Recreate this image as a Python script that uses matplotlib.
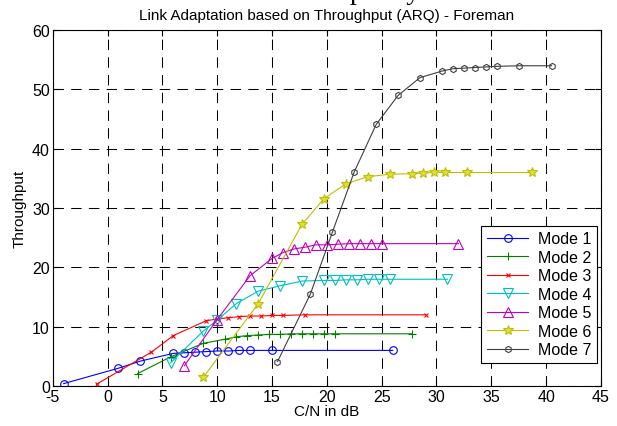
import matplotlib
matplotlib.use("Agg")
import matplotlib.pyplot as plt

plt.rcParams["font.family"] = ["Liberation Sans", "DejaVu Sans"]
plt.rcParams["axes.unicode_minus"] = False

# throughput curves per mode (C/N in dB -> throughput)
mode1_x = [-4, 1, 3, 6, 7, 8, 9, 10, 11, 12, 13, 15, 26]
mode1_y = [0.4, 3.0, 4.2, 5.5, 5.6, 5.7, 5.8, 5.9, 5.9, 6.0, 6.0, 6.0, 6.0]

mode2_x = [2.75, 5.75, 8.75, 10.75, 11.75, 12.75, 13.75, 14.75, 15.75, 16.75,
           17.75, 18.75, 19.75, 20.75, 27.75]
mode2_y = [2.1, 4.9, 7.2, 7.9, 8.3, 8.5, 8.6, 8.7, 8.7, 8.8, 8.8, 8.8, 8.8, 8.8, 8.8]

mode3_x = [-1, 4, 6, 9, 10, 11, 12, 13, 14, 15, 16, 18, 29]
mode3_y = [0.3, 5.7, 8.5, 11.0, 11.3, 11.5, 11.7, 11.8, 11.8, 11.9, 11.9, 12.0, 12.0]

mode4_x = [5.75, 8.75, 10, 11.75, 13.75, 15.75, 17.75, 19.75, 20.75, 21.75,
           22.75, 23.75, 24.75, 25.75, 31]
mode4_y = [3.9, 9.3, 11.1, 13.9, 16.0, 16.9, 17.7, 17.8, 17.8, 17.9, 17.9, 18, 18, 18, 18]

mode5_x = [7, 10, 13, 15, 16, 17, 18, 19, 20, 21, 22, 23, 24, 25, 32]
mode5_y = [3.4, 11.2, 18.6, 21.5, 22.5, 23.1, 23.4, 23.8, 23.8, 23.9, 24, 24, 24, 24, 24]

mode6_x = [8.75, 13.75, 17.75, 19.75, 21.75, 23.75, 25.75, 27.75, 28.75, 29.75,
           30.75, 32.75, 38.75]
mode6_y = [1.5, 13.9, 27.3, 31.6, 34.1, 35.3, 35.7, 35.8, 35.9, 36, 36, 36, 36]

mode7_x = [15.5, 18.5, 20.5, 22.5, 24.5, 26.5, 28.5, 30.5, 31.5, 32.5, 33.5,
           34.5, 35.5, 37.5, 40.5]
mode7_y = [4.1, 15.5, 25.9, 36.1, 44.1, 49.0, 52.0, 53.1, 53.5, 53.6, 53.7,
           53.8, 53.9, 54, 54]

series = [
    ("Mode 1", mode1_x, mode1_y, "#0000ff", "o", 5.5, "none"),
    ("Mode 2", mode2_x, mode2_y, "#008000", "+", 6, "none"),
    ("Mode 3", mode3_x, mode3_y, "#ff0000", "x", 3.5, "none"),
    ("Mode 4", mode4_x, mode4_y, "#00bfbf", "v", 6.5, "none"),
    ("Mode 5", mode5_x, mode5_y, "#bf00bf", "^", 6.5, "none"),
    ("Mode 6", mode6_x, mode6_y, "#bfbf00", "*", 7.5, "#dede40"),
    ("Mode 7", mode7_x, mode7_y, "#404040", "h", 4.5, "none"),
]

fig = plt.figure(figsize=(6.17, 4.27), dpi=100)
ax = fig.add_axes([0.0854, 0.0937, 0.8886, 0.8333])

for name, x, y, c, m, ms, fc in series:
    ax.plot(x, y, color=c, marker=m, markersize=ms, markerfacecolor=fc,
            markeredgecolor=c, linewidth=0.8, markeredgewidth=0.8, label=name)

ax.set_xlim(-5, 45)
ax.set_ylim(0, 60)
ax.set_xticks(range(-5, 46, 5))
ax.set_yticks(range(0, 61, 10))
ax.grid(True, color="black", linestyle=(0, (10, 7)), linewidth=0.75)
ax.tick_params(direction="in", top=True, right=True, labelsize=11.5, length=4, pad=2)
for s in ax.spines.values():
    s.set_linewidth(0.8)

ax.set_xlabel("C/N in dB", fontsize=11, labelpad=0)
ax.set_ylabel("Throughput", fontsize=11, labelpad=4)
ax.set_title("Link Adaptation based on Throughput (ARQ) - Foreman", fontsize=11, pad=8)

leg = ax.legend(loc="lower right", fontsize=11.5, fancybox=False, framealpha=1,
                edgecolor="black", borderaxespad=0.0, bbox_to_anchor=(0.993, 0.065),
                handlelength=2.6, labelspacing=0.22, borderpad=0.35,
                handletextpad=0.6)
leg.get_frame().set_linewidth(0.8)

# clipped caption remnant at the very top of the picture
fig.text(0.568, 1.003, "put by", family=["Liberation Serif", "DejaVu Serif"],
         fontsize=20, va="baseline")

fig.savefig("out.png", dpi=100)
